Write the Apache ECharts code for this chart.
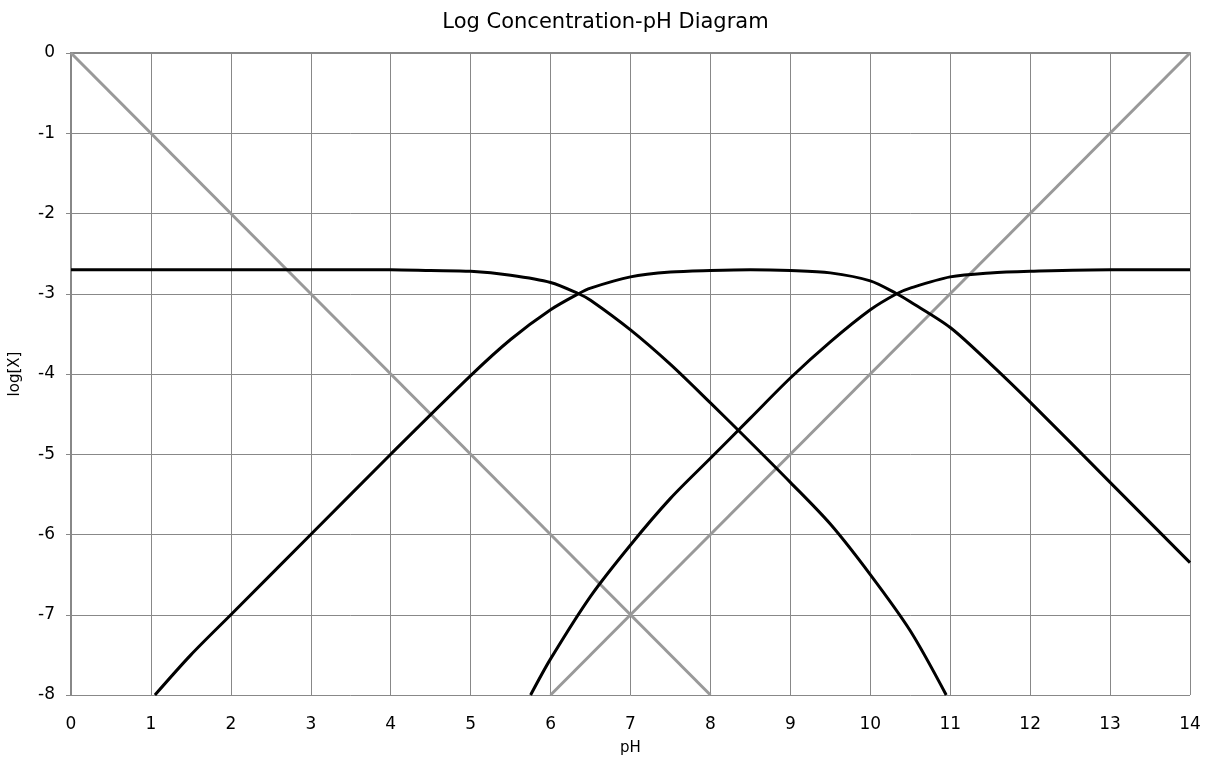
<!DOCTYPE html>
<html lang="en">
	<head>
		<meta charset="UTF-8">
		<title>Log Concentration-pH Diagram</title>
		<script src="https://cdn.jsdelivr.net/npm/echarts@6/dist/echarts.min.js"></script>
		<style>
			body { margin: 0; background: #fff; }
			#main { width: 1211px; height: 765px; }
		</style>
	</head>
	<body>
		<div id="main"></div>
	</body>
	<script>
		// values
		let hPH = [0, 8];
		let hLog = [0, -8];
		let ohPH = [6, 14];
		let ohLog = [-8, 0];

		let acidPH = [0, 1, 2, 3, 4, 4.5, 5, 5.5, 6, 6.35, 6.5, 7, 7.5, 8, 8.5, 9, 9.5, 10, 10.5, 10.95];
		let acidLog = [-2.7, -2.7, -2.7, -2.7, -2.7, -2.71, -2.72, -2.77, -2.86, -3.0, -3.08, -3.45, -3.88, -4.36, -4.85, -5.35, -5.87, -6.5, -7.2, -8];

		let bicarbPH = [1.05, 1.5, 2, 3, 4, 5, 5.5, 6, 6.35, 6.5, 7, 7.5, 8, 8.5, 9, 9.5, 10, 10.33, 10.5, 11, 11.5, 12, 13, 14];
		let bicarbLog = [-8, -7.5, -7.0, -6.0, -5.0, -4.02, -3.57, -3.2, -3.0, -2.93, -2.79, -2.73, -2.71, -2.7, -2.71, -2.74, -2.84, -3.0, -3.1, -3.42, -3.87, -4.35, -5.35, -6.35];

		let carbPH = [5.75, 6, 6.5, 7, 7.5, 8, 8.5, 9, 9.5, 10, 10.33, 10.5, 11, 11.5, 12, 13, 14];
		let carbLog = [-8, -7.55, -6.77, -6.13, -5.55, -5.05, -4.55, -4.05, -3.6, -3.2, -3.0, -2.93, -2.79, -2.74, -2.72, -2.7, -2.7];

		function pairs(xs, ys) {
			let out = [];
			for (let i = 0; i < xs.length; i++) {
				out.push([xs[i], ys[i]]);
			}
			return out;
		}

		function line(name, xs, ys, color, width, smooth) {
			return {
				name: name,
				type: 'line',
				data: pairs(xs, ys),
				showSymbol: false,
				smooth: smooth,
				lineStyle: { color: color, width: width },
				z: color === '#000' ? 4 : 3
			};
		}

		let font = '"DejaVu Sans", sans-serif';

		let option = {
			animation: false,
			backgroundColor: '#fff',
			title: {
				text: 'Log Concentration-pH Diagram',
				left: 'center',
				top: 7,
				textStyle: { fontFamily: font, fontSize: 21, fontWeight: 'normal', color: '#000' }
			},
			grid: { left: 70, right: 21, top: 53, bottom: 70 },
			xAxis: {
				type: 'value',
				min: 0,
				max: 14,
				interval: 1,
				name: 'pH',
				nameLocation: 'middle',
				nameGap: 46,
				nameTextStyle: { fontFamily: font, fontSize: 15, color: '#000' },
				axisLine: { lineStyle: { color: '#888', width: 2 } },
				axisTick: { show: true, length: 5, lineStyle: { color: '#888' } },
				axisLabel: { fontFamily: font, fontSize: 17, color: '#000', margin: 21 },
				splitLine: { show: true, lineStyle: { color: '#888', width: 1 } }
			},
			yAxis: {
				type: 'value',
				min: -8,
				max: 0,
				interval: 1,
				name: 'log[X]',
				nameLocation: 'middle',
				nameGap: 48,
				nameTextStyle: { fontFamily: font, fontSize: 15, color: '#000' },
				axisLine: { show: true, lineStyle: { color: '#888', width: 2 } },
				axisTick: { show: true, length: 5, lineStyle: { color: '#888' } },
				axisLabel: { fontFamily: font, fontSize: 17, color: '#000', margin: 16 },
				splitLine: { show: true, lineStyle: { color: '#888', width: 1 } }
			},
			series: [
				line('H+', hPH, hLog, '#999', 3, false),
				line('OH-', ohPH, ohLog, '#999', 3, false),
				line('H2A', acidPH, acidLog, '#000', 3, 0.3),
				line('HA-', bicarbPH, bicarbLog, '#000', 3, 0.3),
				line('A2-', carbPH, carbLog, '#000', 3, 0.3)
			]
		};

		let echart = echarts.init(document.getElementById('main'));
		echart.setOption(option);
	</script>
</html>
